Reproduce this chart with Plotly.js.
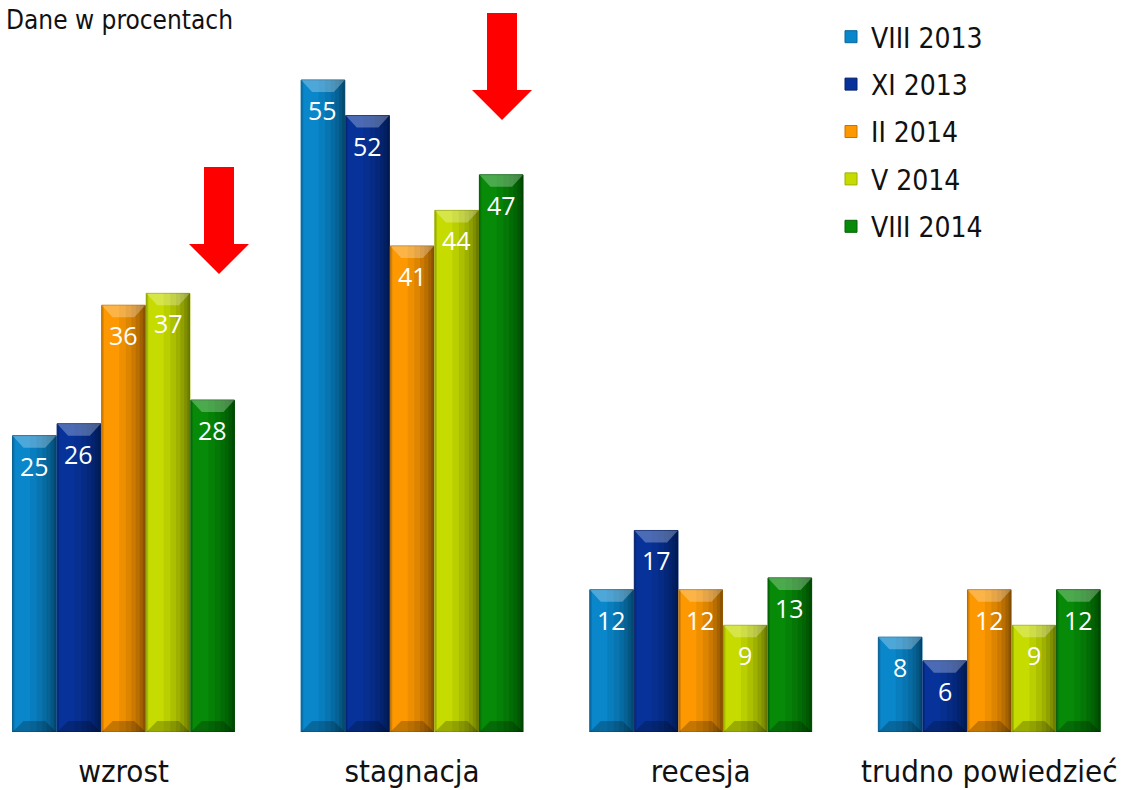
<!DOCTYPE html>
<html>
<head>
<meta charset="utf-8">
<script src="https://cdn.plot.ly/plotly-3.0.1.min.js"></script>
<style>
html,body{margin:0;padding:0;background:#fff;}
#chart{width:1127px;height:790px;}
</style>
</head>
<body>
<div id="chart"></div>
<script>
var categories = ["wzrost", "stagnacja", "recesja", "trudno powiedzieć"];
var seriesNames = ["VIII 2013", "XI 2013", "II 2014", "V 2014", "VIII 2014"];
var viii2013 = [25, 55, 12, 8];
var xi2013 = [26, 52, 17, 6];
var ii2014 = [36, 41, 12, 12];
var v2014 = [37, 44, 9, 9];
var viii2014 = [28, 47, 13, 12];
var seriesValues = [viii2013, xi2013, ii2014, v2014, viii2014];
var colors = ["#0A86CB", "#07329A", "#FD9800", "#C6DC00", "#068A08"];
var edgeColors = ["#05679e", "#042370", "#c87400", "#9bb000", "#046006"];

var catIdx = categories.map(function(c, i){ return i; });
var condensed = "'DejaVu Sans Condensed', 'DejaVu Sans', sans-serif";

var W = 1127, PH = 732;
var BARGAP = 0.228;
var GROUPGAP = 0.02;
var slot = (1 - BARGAP) / seriesValues.length;
var pxPerCat = 288.6;
var halfBar = slot * (1 - GROUPGAP) * pxPerCat / 2;

var traces = seriesValues.map(function(vals, s){
  return {
    type: "bar",
    name: seriesNames[s],
    x: catIdx,
    y: vals,
    marker: {color: colors[s], line: {color: edgeColors[s], width: 1}},
    legendgroup: "g" + s,
    hoverinfo: "none"
  };
});

var annotations = [];
var shapes = [];
function bevelPath(h, top, inset, depth){
  var d = top ? -depth : depth;
  return "M" + (-h) + ",0 L" + h + ",0 L" + (h - inset) + "," + d +
         " L" + (-h + inset) + "," + d + " Z";
}
var shadeSteps = [[0.40, 0.06], [0.55, 0.07], [0.68, 0.08], [0.78, 0.09], [0.87, 0.11], [0.94, 0.13]];
seriesValues.forEach(function(vals, s){
  vals.forEach(function(v, c){
    var xc = c + (s - (seriesValues.length - 1) / 2) * slot;
    annotations.push({
      x: xc, y: v, xref: "x", yref: "y",
      text: String(v), showarrow: false,
      yanchor: "middle", yshift: -30,
      font: {family: "'Open Sans', sans-serif", size: 25, color: "#ffffff"}
    });
    shadeSteps.forEach(function(p){
      shapes.push({type: "rect", layer: "above", xref: "x", yref: "y",
        xsizemode: "pixel", xanchor: xc,
        x0: halfBar * (2 * p[0] - 1), x1: halfBar, y0: 0, y1: v,
        fillcolor: "rgba(0,0,0," + p[1] + ")", line: {width: 0}});
    });
    // thin left edge
    shapes.push({type: "rect", layer: "above", xref: "x", yref: "y",
      xsizemode: "pixel", xanchor: xc,
      x0: -halfBar, x1: -halfBar + 2, y0: 0, y1: v,
      fillcolor: "rgba(0,0,0,0.15)", line: {width: 0}});
    shapes.push({type: "path", layer: "above", xref: "x", yref: "y",
      xsizemode: "pixel", ysizemode: "pixel", xanchor: xc, yanchor: v,
      path: bevelPath(halfBar, true, 11, 12),
      fillcolor: "rgba(255,255,255,0.28)", line: {width: 0}});
    shapes.push({type: "path", layer: "above", xref: "x", yref: "y",
      xsizemode: "pixel", ysizemode: "pixel", xanchor: xc, yanchor: 0,
      path: bevelPath(halfBar, false, 11, 11),
      fillcolor: "rgba(0,0,0,0.22)", line: {width: 0}});
  });
});
annotations.push({
  xref: "paper", yref: "paper", x: 4/W, y: 1 - 20/PH,
  xanchor: "left", yanchor: "middle",
  text: "Dane w procentach", showarrow: false,
  font: {family: condensed, size: 26, color: "#111"}
});

function arrowPath(cx, top, headStart, tip, shaftHalf, headHalf){
  return "M" + (cx - shaftHalf) + "," + top +
         " L" + (cx + shaftHalf) + "," + top +
         " L" + (cx + shaftHalf) + "," + headStart +
         " L" + (cx + headHalf) + "," + headStart +
         " L" + cx + "," + tip +
         " L" + (cx - headHalf) + "," + headStart +
         " L" + (cx - shaftHalf) + "," + headStart + " Z";
}

shapes.push(
  {type: "path", xref: "paper", yref: "paper",
   path: arrowPath(219/W, 1 - 167/PH, 1 - 244/PH, 1 - 274/PH, 15/W, 30/W),
   fillcolor: "#FF0000", line: {width: 0}},
  {type: "path", xref: "paper", yref: "paper",
   path: arrowPath(502/W, 1 - 13/PH, 1 - 90/PH, 1 - 120/PH, 15/W, 30/W),
   fillcolor: "#FF0000", line: {width: 0}}
);

var layout = {
  width: W, height: 790,
  margin: {l: 0, r: 0, t: 0, b: 58, pad: 0, autoexpand: false},
  paper_bgcolor: "#ffffff", plot_bgcolor: "#ffffff",
  barmode: "group",
  bargap: BARGAP,
  bargroupgap: GROUPGAP,
  showlegend: true,
  legend: {
    xref: "paper", yref: "paper",
    x: 831/W, y: 1 - 12/PH, xanchor: "left", yanchor: "top",
    font: {family: condensed, size: 28, color: "#111"},
    tracegroupgap: 8,
    bgcolor: "rgba(0,0,0,0)"
  },
  xaxis: {
    range: [-123.5/pxPerCat, (W - 123.5)/pxPerCat],
    tickmode: "array", tickvals: catIdx, ticktext: categories,
    showgrid: false, zeroline: false, showline: false, ticks: "",
    ticklabelstandoff: 18,
    tickfont: {family: condensed, size: 31, color: "#111"},
    fixedrange: true
  },
  yaxis: {
    range: [0, PH/11.855], visible: false, fixedrange: true
  },
  annotations: annotations,
  shapes: shapes
};

Plotly.newPlot("chart", traces, layout, {displayModeBar: false, staticPlot: true});
</script>
</body>
</html>
